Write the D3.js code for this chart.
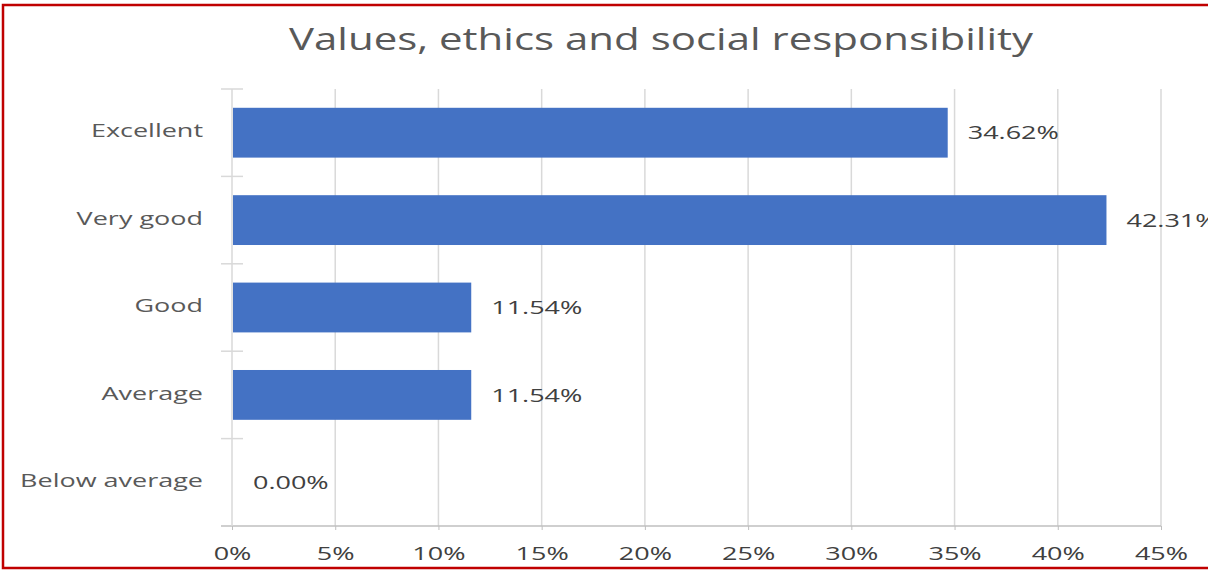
<!DOCTYPE html>
<html><head><meta charset="utf-8">
<script src="https://cdn.jsdelivr.net/npm/d3@7"></script>
<style>body{margin:0;background:#fff;} svg{display:block;}</style>
</head><body>
<svg id="c" width="1208" height="570"></svg>
<script>
const categories = ["Excellent", "Very good", "Good", "Average", "Below average"];
const values = [34.62, 42.31, 11.54, 11.54, 0.00];
const xTicks = [0, 5, 10, 15, 20, 25, 30, 35, 40, 45];
const title = "Values, ethics and social responsibility";

const svg = d3.select("#c");
const font = "'Open Sans', 'Noto Sans', sans-serif";
const SX = 1.42;   // horizontal stretch of the source picture's text
svg.append("rect").attr("x", 3).attr("y", 5).attr("width", 1210).attr("height", 563)
  .attr("fill", "#fff").attr("stroke", "#c00000").attr("stroke-width", 2.5);

const m = {left: 232, right: 1161, top: 89, bottom: 526};
const x = d3.scaleLinear().domain([0, 45]).range([m.left, m.right]);
const y = d3.scaleBand().domain(categories).range([m.top, m.bottom]).paddingInner(0.43).paddingOuter(0.215);

svg.append("text").attr("transform", "translate(661,50) scale(1.355,1)").attr("text-anchor", "middle")
  .attr("font-family", font).attr("font-size", 31).attr("fill", "#595959").text(title);

// gridlines
svg.append("g").selectAll("line").data(xTicks.slice(1)).join("line")
  .attr("x1", d => x(d)).attr("x2", d => x(d)).attr("y1", m.top).attr("y2", m.bottom)
  .attr("stroke", "#d9d9d9").attr("stroke-width", 1.5);

// bottom axis
const xAxis = svg.append("g").attr("transform", `translate(0,${m.bottom})`)
  .call(d3.axisBottom(x).tickValues(xTicks).tickFormat(d => d + "%").tickSize(4).tickPadding(17));
xAxis.select(".domain").attr("stroke", "#bfbfbf").attr("stroke-width", 1.5).attr("d", `M${m.left-11},0H${m.right}`);
xAxis.selectAll(".tick line").attr("stroke", "#bfbfbf");
xAxis.selectAll("text").attr("font-family", font).attr("font-size", 19).attr("fill", "#404040")
  .attr("transform", `scale(${SX},1)`);

// left axis
const yBoundaries = categories.map(c => y(c) - y.step() * y.paddingInner() / 2);
svg.append("line").attr("x1", m.left).attr("x2", m.left).attr("y1", m.top).attr("y2", m.bottom)
  .attr("stroke", "#d9d9d9").attr("stroke-width", 1.5);
svg.append("g").selectAll("line").data(yBoundaries).join("line")
  .attr("x1", m.left - 11).attr("x2", m.left + 11).attr("y1", d => d).attr("y2", d => d)
  .attr("stroke", "#d9d9d9").attr("stroke-width", 1.5);
svg.append("g").selectAll("text").data(categories).join("text")
  .attr("transform", d => `translate(203,${y(d) + y.bandwidth() / 2 - 2}) scale(${SX},1)`).attr("dy", "0.35em")
  .attr("text-anchor", "end").attr("font-family", font).attr("font-size", 19).attr("fill", "#595959")
  .text(d => d);

// bars
svg.append("g").selectAll("rect").data(values).join("rect")
  .attr("x", x(0) + 1).attr("y", (d, i) => y(categories[i]))
  .attr("width", d => Math.max(0, x(d) - x(0)))
  .attr("height", y.bandwidth()).attr("fill", "#4472c4");

// data labels
svg.append("g").selectAll("text").data(values).join("text")
  .attr("transform", (d, i) => `translate(${x(d) + 21},${y(categories[i]) + y.bandwidth() / 2}) scale(${SX},1)`)
  .attr("dy", "0.35em")
  .attr("font-family", font).attr("font-size", 19).attr("fill", "#404040")
  .text(d => d.toFixed(2) + "%");
</script>
</body></html>
